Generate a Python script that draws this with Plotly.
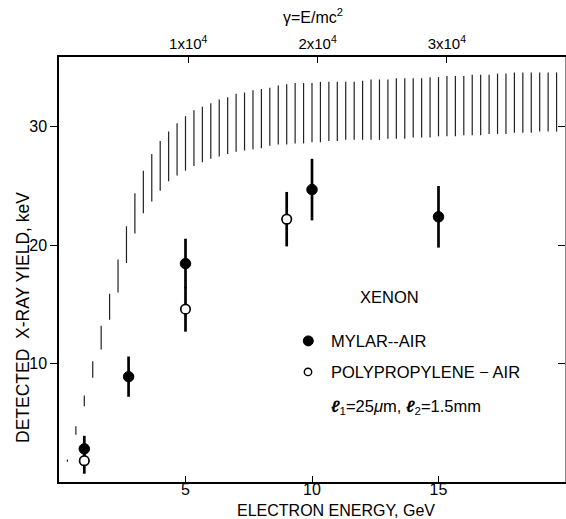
import plotly.graph_objects as go

# ---------------- data ----------------
mylar_energy = [1.0, 2.75, 5.0, 10.0, 15.0]
mylar_yield = [2.8, 8.9, 18.45, 24.7, 22.4]
mylar_err = [1.1, 1.7, 2.1, 2.6, 2.6]

poly_energy = [1.0, 5.0, 9.0]
poly_yield = [1.8, 14.6, 22.2]
poly_err = [1.1, 1.9, 2.3]

# hatched theory band: one vertical line every 1/3 GeV
band_energy = [k / 3 for k in range(1, 60)]
band_low = [1.7, 4.0, 6.4, 8.8, 11.2, 13.7, 16.0, 18.5, 21.0, 22.7,
            23.7, 24.6, 25.4, 25.9, 26.3, 26.7, 27.0, 27.3, 27.5, 27.7,
            27.9, 28.0, 28.1, 28.2, 28.4, 28.5, 28.5, 28.6, 28.6, 28.7,
            28.7, 28.8, 28.8, 28.9, 28.9, 28.9, 28.9, 28.9, 29.0, 29.0,
            29.0, 29.1, 29.1, 29.1, 29.2, 29.2, 29.2, 29.3, 29.3, 29.3,
            29.4, 29.4, 29.4, 29.5, 29.5, 29.5, 29.6, 29.6, 29.6]
band_high = [1.9, 4.7, 7.3, 10.2, 13.2, 15.9, 18.8, 21.6, 24.4, 26.3,
             27.7, 28.8, 29.6, 30.3, 30.9, 31.4, 31.7, 32.0, 32.3, 32.5,
             32.8, 32.9, 33.1, 33.2, 33.3, 33.5, 33.6, 33.7, 33.7, 33.7,
             33.8, 33.8, 33.8, 33.8, 33.8, 33.9, 34.0, 34.0, 34.0, 34.1,
             34.1, 34.1, 34.1, 34.2, 34.2, 34.3, 34.3, 34.3, 34.4, 34.4,
             34.4, 34.5, 34.5, 34.6, 34.6, 34.6, 34.6, 34.6, 34.6]

x_ticks = [5, 10, 15]
y_ticks = [10, 20, 30]
gamma_ticks = [1e4, 2e4, 3e4]
gamma_ticktext = ["1x10<sup>4</sup>", "2x10<sup>4</sup>", "3x10<sup>4</sup>"]
electron_mass_gev = 0.000511

X_RANGE = [0, 20]
Y_RANGE = [0, 35.9]

FONT = "Liberation Sans, Arial, sans-serif"

# ---------------- build figure ----------------
bx, by = [], []
for e, lo, hi in zip(band_energy, band_low, band_high):
    bx += [e, e, None]
    by += [lo, hi, None]

fig = go.Figure()
fig.add_trace(go.Scatter(x=bx, y=by, mode="lines",
                         line=dict(color="#222222", width=1.2),
                         hoverinfo="skip", showlegend=False))
fig.add_trace(go.Scatter(
    x=mylar_energy, y=mylar_yield, mode="markers", showlegend=False,
    marker=dict(color="black", size=10.5, line=dict(color="black", width=1)),
    error_y=dict(type="data", array=mylar_err, color="black", thickness=2.7, width=0)))
fig.add_trace(go.Scatter(
    x=poly_energy, y=poly_yield, mode="markers", showlegend=False,
    marker=dict(color="white", size=9.5, line=dict(color="black", width=1.7)),
    error_y=dict(type="data", array=poly_err, color="black", thickness=2.7, width=0)))
# dummy trace to activate the gamma (top) axis and the mirrored right axis
fig.add_trace(go.Scatter(x=[gamma_ticks[0]], y=[Y_RANGE[0]], xaxis="x2", yaxis="y2",
                         mode="markers", marker=dict(opacity=0),
                         hoverinfo="skip", showlegend=False))

axis_font = dict(family=FONT, size=16, color="black")

fig.update_layout(
    width=566, height=519,
    margin=dict(l=59, r=1, t=57, b=37),
    paper_bgcolor="white", plot_bgcolor="white",
    showlegend=False,
    xaxis=dict(range=X_RANGE, tickvals=x_ticks, ticks="inside", ticklen=6,
               tickwidth=1.3, tickcolor="black", showline=True, linecolor="black",
               linewidth=1.5, mirror=True, showgrid=False, zeroline=False,
               tickfont=axis_font, ticklabelstandoff=-8),
    yaxis=dict(range=Y_RANGE, tickvals=y_ticks, ticks="outside", ticklen=7,
               tickwidth=1.3, tickcolor="black", showline=True, linecolor="black",
               linewidth=1.5, showgrid=False, zeroline=False, tickfont=axis_font),
    xaxis2=dict(range=[X_RANGE[0] / electron_mass_gev, X_RANGE[1] / electron_mass_gev],
                overlaying="x", side="top", tickvals=gamma_ticks, ticktext=gamma_ticktext,
                ticks="inside", ticklen=6, tickwidth=1.3, tickcolor="black",
                showline=True, linecolor="black", linewidth=1.5, showgrid=False,
                zeroline=False, tickfont=dict(family=FONT, size=15, color="black")),
    yaxis2=dict(range=Y_RANGE, overlaying="y", side="right", tickvals=y_ticks,
                ticks="inside", ticklen=7, tickwidth=1.3, tickcolor="black",
                showticklabels=False, showline=True, linecolor="#888", linewidth=1.2,
                showgrid=False, zeroline=False),
)

txt = dict(family=FONT, size=16.5, color="black")
annots = [
    dict(text="DETECTED  X-RAY YIELD, keV", x=-0.0711, y=0.386, textangle=-90,
         xanchor="center", yanchor="middle", font=dict(family=FONT, size=17.5, color="black")),
    dict(text="ELECTRON ENERGY, GeV", x=0.547, y=-0.066, xanchor="center", yanchor="middle",
         font=dict(family=FONT, size=16, color="black")),
    dict(text="γ=E/mc<sup>2</sup>", x=0.502, y=1.097, xanchor="center", yanchor="middle",
         font=dict(family=FONT, size=16, color="black")),
    dict(text="XENON", x=0.654, y=0.435, xanchor="center", yanchor="middle", font=txt),
    dict(text="MYLAR--AIR", x=0.5336, y=0.332, xanchor="left", yanchor="middle", font=txt),
    dict(text="POLYPROPYLENE − AIR", x=0.5336, y=0.259, xanchor="left", yanchor="middle",
         font=txt),
    dict(text="<i><b>ℓ</b></i><sub>1</sub>=25<i>μ</i>m, <i><b>ℓ</b></i><sub>2</sub>=1.5mm",
         x=0.5336, y=0.177, xanchor="left", yanchor="middle", font=txt),
]
for a in annots:
    fig.add_annotation(xref="paper", yref="paper", showarrow=False, **a)

# legend key symbols
fig.add_shape(type="circle", xref="paper", yref="paper", xsizemode="pixel",
              ysizemode="pixel", xanchor=0.4927, yanchor=0.332,
              x0=-5, x1=5, y0=-5, y1=5, fillcolor="black", line=dict(color="black", width=1))
fig.add_shape(type="circle", xref="paper", yref="paper", xsizemode="pixel",
              ysizemode="pixel", xanchor=0.4921, yanchor=0.259,
              x0=-3.7, x1=3.7, y0=-3.7, y1=3.7, fillcolor="white",
              line=dict(color="black", width=1.4))

fig.write_html("out.html")
